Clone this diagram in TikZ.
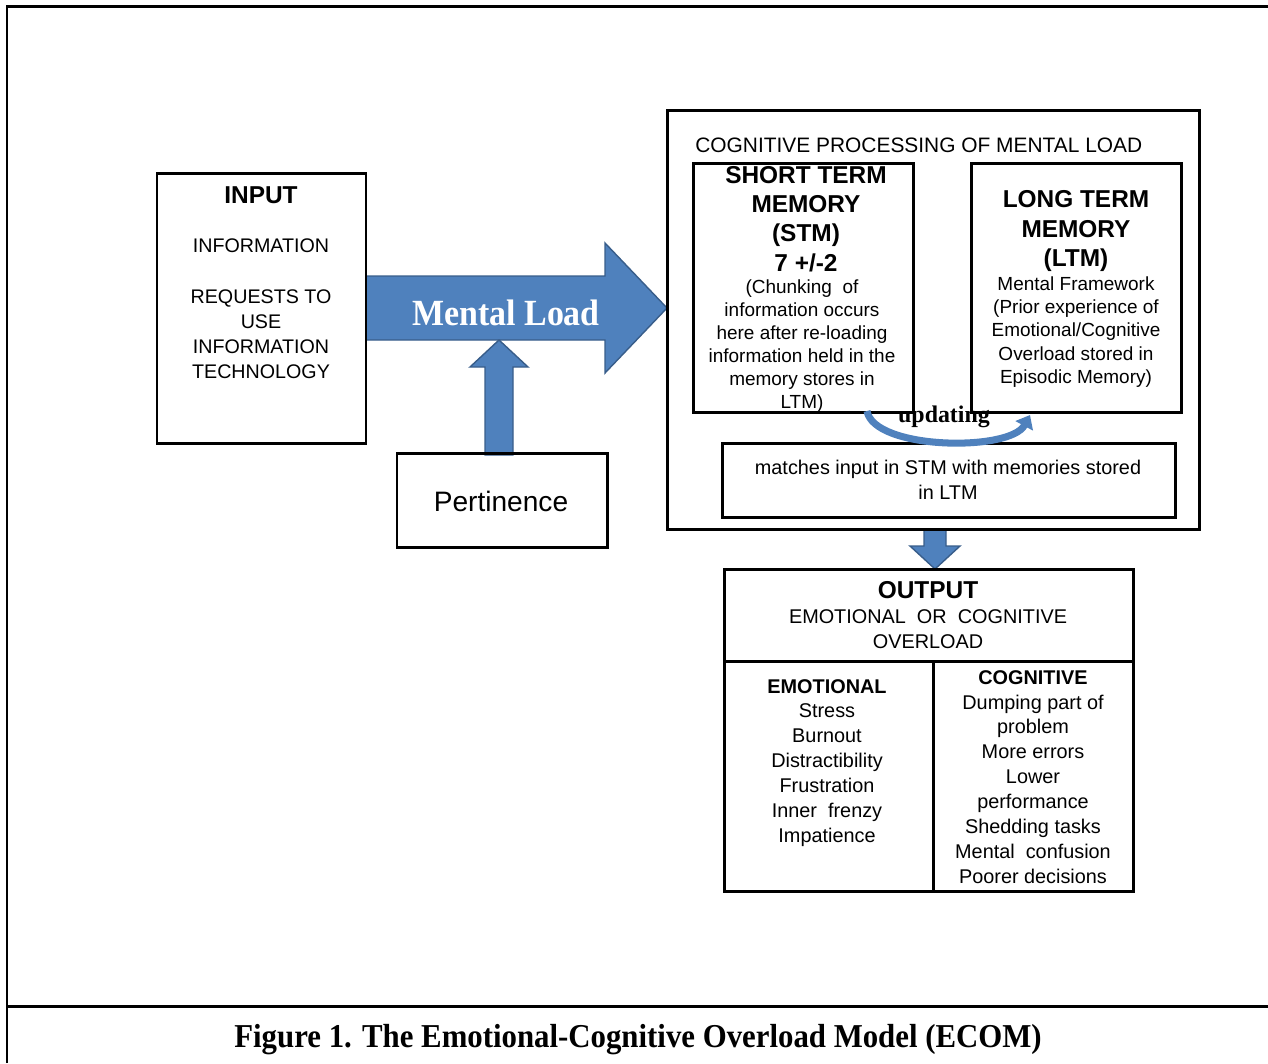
\documentclass[tikz,border=0pt]{standalone}
\usepackage{fontspec}
\setmainfont{Liberation Sans}
\newfontfamily\capserif{Liberation Serif}
\usetikzlibrary{fit,arrows.meta}
\definecolor{ablue}{RGB}{79,129,189}
\definecolor{ablueD}{RGB}{56,93,138}
\begin{document}
\begin{tikzpicture}[x=0.02cm,y=-0.02cm,
  box/.style={draw=black, line width=1.7pt, inner sep=0pt},
  frameline/.style={line width=1.7pt},
  blockarrow/.style={fill=ablue, draw=ablueD, line width=0.8pt, line join=miter},
  hd/.style={font=\bfseries\fontsize{13.9}{16.7}\selectfont, align=center, inner sep=0pt},
  bt/.style={font=\fontsize{11.2}{14.2}\selectfont, align=center, inner sep=0pt},
  st/.style={font=\fontsize{10.8}{13}\selectfont, align=center, inner sep=0pt},
  ot/.style={font=\fontsize{11.3}{14.2}\selectfont, align=center, inner sep=0pt},
  oh/.style={font=\bfseries\fontsize{11.6}{14.2}\selectfont, align=center, inner sep=0pt}]
\useasboundingbox (0,0) rectangle (1268,1063);
% frame
\draw[frameline] (7,1063) -- (7,6) -- (1268,6);
\draw[frameline] (7,1006) -- (1268,1006);
\node[font=\capserif\bfseries\fontsize{19}{22}\selectfont, inner sep=0pt] (cap) at (638,1040) {\scalebox{0.923}[1]{Figure 1. The Emotional-Cognitive Overload Model (ECOM)}};

% block arrows
\draw[blockarrow] (366,276) -- (605,276) -- (605,243) -- (667,308) -- (605,373) -- (605,340) -- (366,340) -- cycle;
\draw[blockarrow] (485,455) -- (485,367) -- (470,367) -- (499,340) -- (528,367) -- (513,367) -- (513,455) -- cycle;
\draw[blockarrow] (924,529) -- (946,529) -- (946,546) -- (960,546) -- (935,569) -- (910,546) -- (924,546) -- cycle;
\node[font=\capserif\bfseries\fontsize{21}{21}\selectfont, text=white, inner sep=0pt] (ml) at (506,313) {\scalebox{0.92}[1]{Mental Load}};

% boxes
\node[box, fit={(157,173)(366,443)}] (input) {};
\node[box, fit={(397,453)(607,547)}] (pert) {};
\node[box, fit={(667,110)(1199,529)}] (cog) {};
\node[box, fit={(693,163)(913,412)}] (stm) {};
\node[box, fit={(971,163)(1181,412)}] (ltm) {};
\node[box, fit={(722,443)(1175,517)}] (match) {};
\node[box, fit={(724,569)(1133,891)}] (out) {};
\draw[frameline] (724,661) -- (1133,661);
\draw[frameline] (933,661) -- (933,891);

% input texts
\node[hd] (inT) at (261,195) {INPUT};
\node[bt] (inB) at (261,309) {INFORMATION\\[14.7pt]REQUESTS TO\\USE\\INFORMATION\\TECHNOLOGY};
\node[font=\fontsize{16}{19}\selectfont, inner sep=0pt] (pertT) at (501,501) {Pertinence};

% cognitive processing
\node[font=\fontsize{11.9}{14}\selectfont, inner sep=0pt, anchor=west] (cogT) at (695,145) {COGNITIVE PROCESSING OF MENTAL LOAD};
\node[hd] (stmT) at (806,219) {SHORT TERM\\MEMORY\\(STM)\\7 +/-2};
\node[st] (stmB) at (802,346) {(Chunking\ \ of\\information occurs\\here after re-loading\\information held in the\\memory stores in\\LTM)};
\node[hd] (ltmT) at (1076,231) {LONG TERM\\MEMORY\\(LTM)};
\node[st, font=\fontsize{10.8}{13.2}\selectfont] (ltmB) at (1076,332) {Mental Framework\\(Prior experience of\\Emotional/Cognitive\\Overload stored in\\Episodic Memory)};
\node[ot] (matchT) at (948,480) {matches\ input\ in\ STM\ with\ memories\ stored\\in LTM};

% updating arc
\draw[ablue, line width=4pt, -{Triangle[length=7pt,width=11pt]}] (867,411) .. controls (874,450) and (1010,452) .. (1030,415);
\node[font=\capserif\bfseries\fontsize{13.6}{16}\selectfont, inner sep=0pt] (upd) at (944,417) {updating};

% output
\node[hd] (outT) at (928,590) {OUTPUT};
\node[ot] (outB) at (928,629) {EMOTIONAL\ \ OR\ \ COGNITIVE\\OVERLOAD};
\node[ot] (emo) at (827,763) {\textbf{EMOTIONAL}\\Stress\\Burnout\\Distractibility\\Frustration\\Inner\ \ frenzy\\Impatience};
\node[ot] (cogn) at (1033,777) {\textbf{COGNITIVE}\\Dumping part of\\problem\\More errors\\Lower\\performance\\Shedding tasks\\Mental\ \ confusion\\Poorer decisions};
\end{tikzpicture}
\end{document}
